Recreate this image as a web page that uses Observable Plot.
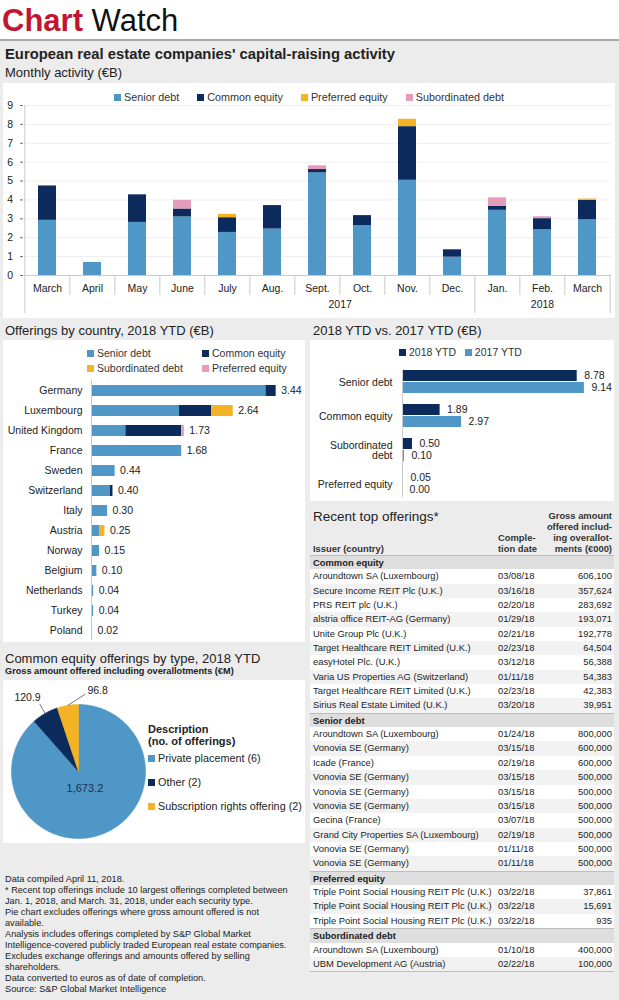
<!DOCTYPE html>
<html><head><meta charset="utf-8">
<script src="https://cdn.jsdelivr.net/npm/d3@7"></script>
<script src="https://cdn.jsdelivr.net/npm/@observablehq/plot@0.6"></script>
<style>
body{margin:0;background:#fff;}
#page{position:relative;width:619px;height:1000px;overflow:hidden;background:#fff;color:#222;
 font-family:"Liberation Sans",Arial,sans-serif;}
.sq{display:inline-block;width:7px;height:7px;margin-right:3px;vertical-align:0px;}
</style></head>
<body><div id="page"></div>
<script>
// ---------------- DATA ----------------
const monthKeys = ["Mar17","Apr17","May17","Jun17","Jul17","Aug17","Sep17","Oct17","Nov17","Dec17","Jan18","Feb18","Mar18"];
const monthLabels = ["March","April","May","June","July","Aug.","Sept.","Oct.","Nov.","Dec.","Jan.","Feb.","March"];
const yearLabels = ["2017","2018"];
const monthlySeries = ["Senior debt","Common equity","Preferred equity","Subordinated debt"];
const seniorDebt      = [2.92,0.69,2.81,3.10,2.28,2.46,5.43,2.64,5.04,0.97,3.45,2.42,2.95];
const commonEquity    = [1.82,0.00,1.46,0.42,0.78,1.24,0.18,0.53,2.84,0.39,0.22,0.59,1.03];
const preferredEquity = [0.00,0.00,0.00,0.00,0.18,0.00,0.00,0.00,0.39,0.00,0.00,0.00,0.07];
const subordinatedDebt= [0.00,0.00,0.00,0.46,0.00,0.00,0.20,0.00,0.00,0.00,0.44,0.10,0.00];

const countries = ["Germany","Luxembourg","United Kingdom","France","Sweden","Switzerland","Italy","Austria","Norway","Belgium","Netherlands","Turkey","Poland"];
const ctySeries = ["Senior debt","Common equity","Subordinated debt","Preferred equity"];
const ctySenior = [3.25,1.64,0.64,1.68,0.44,0.35,0.30,0.15,0.15,0.10,0.04,0.04,0.02];
const ctyCommon = [0.19,0.60,1.04,0,0,0.05,0,0,0,0,0,0,0];
const ctySub    = [0,0.40,0,0,0,0,0,0.10,0,0,0,0,0];
const ctyPref   = [0,0,0.05,0,0,0,0,0,0,0,0,0,0];

const ytdCategories = ["Senior debt","Common equity","Subordinated debt","Preferred equity"];
const ytdYears = ["2018 YTD","2017 YTD"];
const ytd2018 = [8.78,1.89,0.50,0.05];
const ytd2017 = [9.14,2.97,0.10,0.00];

const pieTypes = ["Private placement (6)","Other (2)","Subscription rights offering (2)"];
const pieValues = [1673.2,120.9,96.8];

const tableSections = ["Common equity","Senior debt","Preferred equity","Subordinated debt"];
const tableIssuers = [
 ["Aroundtown SA (Luxembourg)","Secure Income REIT Plc (U.K.)","PRS REIT plc (U.K.)","alstria office REIT-AG (Germany)","Unite Group Plc (U.K.)","Target Healthcare REIT Limited (U.K.)","easyHotel Plc. (U.K.)","Varia US Properties AG (Switzerland)","Target Healthcare REIT Limited (U.K.)","Sirius Real Estate Limited (U.K.)"],
 ["Aroundtown SA (Luxembourg)","Vonovia SE (Germany)","Icade (France)","Vonovia SE (Germany)","Vonovia SE (Germany)","Vonovia SE (Germany)","Gecina (France)","Grand City Properties SA (Luxembourg)","Vonovia SE (Germany)","Vonovia SE (Germany)"],
 ["Triple Point Social Housing REIT Plc (U.K.)","Triple Point Social Housing REIT Plc (U.K.)","Triple Point Social Housing REIT Plc (U.K.)"],
 ["Aroundtown SA (Luxembourg)","UBM Development AG (Austria)"]];
const tableDates = [
 ["03/08/18","03/16/18","02/20/18","01/29/18","02/21/18","02/23/18","03/12/18","01/11/18","02/23/18","03/20/18"],
 ["01/24/18","03/15/18","02/19/18","03/15/18","03/15/18","03/15/18","03/07/18","02/19/18","01/11/18","01/11/18"],
 ["03/22/18","03/22/18","03/22/18"],
 ["01/10/18","02/22/18"]];
const tableAmounts = [
 [606100,357624,283692,193071,192778,64504,56388,54383,42383,39951],
 [800000,600000,600000,500000,500000,500000,500000,500000,500000,500000],
 [37861,15691,935],
 [400000,100000]];

const footLines = ["Data compiled April 11, 2018.",
 "* Recent top offerings include 10 largest offerings completed between",
 "Jan. 1, 2018, and March. 31, 2018, under each security type.",
 "Pie chart excludes offerings where gross amount offered is not",
 "available.",
 "Analysis includes offerings completed by S&P Global Market",
 "Intelligence-covered publicly traded European real estate companies.",
 "Excludes exchange offerings and amounts offered by selling",
 "shareholders.",
 "Data converted to euros as of date of completion.",
 "Source: S&P Global Market Intelligence"];

// ---------------- STYLE ----------------
const FONT = '"Liberation Sans",Arial,sans-serif';
const C_SENIOR = "#4f97c7", C_COMMON = "#0c2a5b", C_YEL = "#f4b324", C_PINK = "#e59bb9";
const GRID = "#c9c9c9";
const page = document.getElementById("page");

function el(tag, css, html) { const e = document.createElement(tag); e.style.cssText = css; if (html != null) e.innerHTML = html; page.appendChild(e); return e; }
function txt(x, baseline, fs, html, extra = "") {
  return el("div", `position:absolute;white-space:nowrap;left:${x}px;top:${baseline - 0.8465 * fs}px;font-size:${fs}px;line-height:${fs}px;${extra}`, html);
}
function box(x, y, w, h) { return el("div", `position:absolute;background:#fff;left:${x}px;top:${y}px;width:${w}px;height:${h}px;`); }
function place(node, x, y) { const d = el("div", `position:absolute;left:${x}px;top:${y}px;line-height:0;`); d.appendChild(node); return d; }
function legendItem(color, label) { return `<span><span class="sq" style="background:${color}"></span>${label}</span>`; }
const baseStyle = {fontFamily: FONT, fontSize: "10.5px", color: "#222", background: "transparent", overflow: "visible"};

// ---------------- HEADER / PANEL ----------------
el("div", "position:absolute;left:0;top:41px;width:619px;height:959px;background:#ececec;");
el("div", "position:absolute;left:0;top:39px;width:619px;height:2px;background:#a9a9a9;");
el("div", `position:absolute;white-space:nowrap;left:2px;top:3px;font-size:31px;line-height:36px;`,
  `<span style="color:#c0162f;font-weight:bold">Chart</span> <span style="color:#111">Watch</span>`);
txt(5, 60, 14.8, "European real estate companies' capital-raising activity", "font-weight:bold;");
txt(5, 77, 13, "Monthly activity (€B)");

// ---------------- MONTHLY CHART ----------------
box(3, 83, 612, 235);
el("div", `position:absolute;left:3px;top:90px;width:612px;height:14px;display:flex;justify-content:center;gap:18px;font-size:10.8px;line-height:14px;color:#333;`,
  monthlySeries.map((s, i) => legendItem([C_SENIOR, C_COMMON, C_YEL, C_PINK][i], s)).join(""));
{
  const mW = 612, mH = 217, mT = 4, mB = 43, mL = 19.5, mR = 4;
  const step = (mW - mL - mR) / monthKeys.length;
  const pxPerUnit = (mH - mT - mB) / 9;
  const shortSep = -20 / pxPerUnit, longSep = -38 / pxPerUnit;
  const vals = [seniorDebt, commonEquity, preferredEquity, subordinatedDebt];
  const data = monthlySeries.flatMap((s, si) => monthKeys.map((k, i) => ({key: k, series: s, value: vals[si][i]})));
  const seps = monthKeys.map(k => ({key: k, y1: k === "Mar17" ? 9 : 0, y2: (k === "Mar17" || k === "Jan18") ? longSep : shortSep}));
  const chart = Plot.plot({
    width: mW, height: mH, marginTop: mT, marginBottom: mB, marginLeft: mL, marginRight: mR,
    style: baseStyle,
    x: {domain: monthKeys, paddingInner: 0.6, paddingOuter: 0.3, label: null, tickSize: 0, tickPadding: 9,
        tickFormat: d => monthLabels[monthKeys.indexOf(d)]},
    y: {domain: [0, 9], ticks: 9, label: null, tickSize: 2, tickPadding: 8},
    color: {domain: monthlySeries, range: [C_SENIOR, C_COMMON, C_YEL, C_PINK]},
    marks: [
      Plot.ruleY(d3.range(1, 10), {stroke: "#eeeeee"}),
      Plot.barY(data, {x: "key", y: "value", fill: "series", order: monthlySeries}),
      Plot.ruleY([0], {stroke: GRID}),
      Plot.ruleX(seps, {x: "key", y1: "y1", y2: "y2", dx: -step / 2, stroke: GRID}),
      Plot.ruleX([monthKeys[monthKeys.length - 1]], {x: d => d, y1: 0, y2: longSep, dx: step / 2, stroke: GRID}),
      Plot.text([yearLabels[0]], {x: () => "Sep17", text: d => d, frameAnchor: "bottom", dy: 32, dx: step / 2}),
      Plot.text([yearLabels[1]], {x: () => "Feb18", text: d => d, frameAnchor: "bottom", dy: 32})
    ]
  });
  place(chart, 3, 101);
}

// ---------------- COUNTRY CHART ----------------
txt(5, 335, 13, "Offerings by country, 2018 YTD (€B)");
box(3, 340, 302, 302);
{
  const cols = [C_SENIOR, C_COMMON, C_YEL, C_PINK];
  const pos = [[87, 353], [202, 353], [87, 368], [202, 368]];
  ctySeries.forEach((s, i) => txt(pos[i][0], pos[i][1] + 4, 10.5, legendItem(cols[i], s), "color:#333;"));
  const vals = [ctySenior, ctyCommon, ctySub, ctyPref];
  const data = ctySeries.flatMap((s, si) => countries.map((c, i) => ({country: c, series: s, value: vals[si][i]})));
  const totals = countries.map((c, i) => vals.reduce((a, v) => a + v[i], 0));
  const chart = Plot.plot({
    width: 302, height: 266, marginTop: 4, marginBottom: 2, marginLeft: 88, marginRight: 10,
    style: baseStyle,
    x: {domain: [0, 3.8], axis: null},
    y: {domain: countries, paddingInner: 0.45, paddingOuter: 0.225, label: null, tickSize: 0, tickPadding: 9},
    color: {domain: ctySeries, range: cols},
    marks: [
      Plot.barX(data, {y: "country", x: "value", fill: "series", order: ctySeries}),
      Plot.ruleX([0], {stroke: GRID}),
      Plot.text(countries, {y: d => d, x: (d, i) => totals[i], text: (d, i) => totals[i].toFixed(2), dx: 5, textAnchor: "start"})
    ]
  });
  place(chart, 3, 376);
}

// ---------------- YTD CHART ----------------
txt(313, 335, 13, "2018 YTD vs. 2017 YTD (€B)");
box(310, 340, 304, 161);
{
  txt(399, 356, 10.5, legendItem(C_COMMON, ytdYears[0]) + "&nbsp;&nbsp;&nbsp;" + legendItem(C_SENIOR, ytdYears[1]), "color:#333;");
  const data = ytdCategories.flatMap((c, i) => [{cat: c, year: ytdYears[0], v: ytd2018[i]}, {cat: c, year: ytdYears[1], v: ytd2017[i]}]);
  const chart = Plot.plot({
    width: 304, height: 141, marginTop: 4, marginBottom: 0, marginLeft: 92, marginRight: 13,
    style: baseStyle,
    x: {domain: [0, 10], axis: null},
    y: {domain: ytdYears, axis: null, paddingInner: 0.06, paddingOuter: 0},
    fy: {domain: ytdCategories, axis: "left", paddingInner: 0.3, paddingOuter: 0.15, label: null, tickSize: 0, tickPadding: 10,
         tickFormat: d => d === "Subordinated debt" ? "Subordinated\ndebt" : d},
    color: {domain: ytdYears, range: [C_COMMON, C_SENIOR]},
    marks: [
      Plot.barX(data, {fy: "cat", y: "year", x: "v", fill: "year"}),
      Plot.text(data, {fy: "cat", y: "year", x: "v", text: d => d.v.toFixed(2), dx: 7, textAnchor: "start"}),
      Plot.frame({anchor: "left", facet: "super", stroke: GRID})
    ]
  });
  place(chart, 310, 360);
}

// ---------------- PIE CHART ----------------
txt(5, 663, 13, "Common equity offerings by type, 2018 YTD");
txt(5, 675, 9.2, "Gross amount offered including overallotments (€M)", "font-weight:bold;");
box(3, 680, 302, 163);
{
  const pieCols = [C_SENIOR, C_COMMON, C_YEL];
  const arcs = d3.pie().sort(null)(pieValues);
  const mid = a => (a.startAngle + a.endAngle) / 2;
  const ring = a => {
    const n = Math.max(10, Math.ceil((a.endAngle - a.startAngle) / 0.015));
    const pts = [{x: 0, y: 0}];
    for (let k = 0; k <= n; k++) { const t = a.startAngle + (a.endAngle - a.startAngle) * k / n; pts.push({x: Math.sin(t), y: Math.cos(t)}); }
    pts.push({x: 0, y: 0});
    return pts;
  };
  const fmt = d3.format(",.1f");
  const angleShift = [0, 0, 0.25];
  const outside = arcs.slice(1).map(a => {
    const t = mid(a) + angleShift[a.index], r = 1.16;
    return {a, x1: Math.sin(mid(a)), y1: Math.cos(mid(a)), x2: r * Math.sin(t), y2: r * Math.cos(t)};
  });
  const chart = Plot.plot({
    width: 302, height: 163, marginTop: 24, marginBottom: 5, marginLeft: 8, marginRight: 160,
    style: baseStyle,
    x: {domain: [-1, 1], axis: null},
    y: {domain: [-1, 1], axis: null},
    marks: [
      ...arcs.map((a, i) => Plot.line(ring(a), {x: "x", y: "y", fill: pieCols[i], stroke: pieCols[i], strokeWidth: 0.6})),
      Plot.text([arcs[0]], {x: a => 0.27 * Math.sin(mid(a)), y: a => 0.27 * Math.cos(mid(a)), text: a => fmt(a.value), fill: "#1b2f55", fontSize: 11}),
      Plot.link(outside, {x1: "x1", y1: "y1", x2: "x2", y2: "y2", stroke: "#555", strokeWidth: 0.8}),
      Plot.text([outside[0]], {x: "x2", y: "y2", text: d => fmt(d.a.value), textAnchor: "end", dx: 1, dy: -7}),
      Plot.text([outside[1]], {x: "x2", y: "y2", text: d => fmt(d.a.value), textAnchor: "start", dx: 2, dy: -3})
    ]
  });
  place(chart, 3, 680);
  txt(148, 733, 11, "Description", "font-weight:bold;");
  txt(148, 745, 11, "(no. of offerings)", "font-weight:bold;");
  [762, 786, 810].forEach((b, i) => txt(148, b, 10.8, legendItem(pieCols[i], pieTypes[i])));
}

// ---------------- TABLE ----------------
{
  const T = el("div", "position:absolute;left:310px;top:503px;width:304px;height:470px;");
  const add = (css, html) => { const e = document.createElement("div"); e.style.cssText = css; e.innerHTML = html; T.appendChild(e); return e; };
  add("position:absolute;left:3px;top:6px;font-size:13.5px;line-height:16px;white-space:nowrap;", "Recent top offerings*");
  add("position:absolute;left:3px;top:40px;font-size:9.4px;line-height:11px;font-weight:bold;color:#333;white-space:nowrap;", "Issuer (country)");
  add("position:absolute;left:188px;top:29px;font-size:9.4px;line-height:11px;font-weight:bold;color:#333;white-space:nowrap;", "Comple-<br>tion date");
  add("position:absolute;right:2px;top:7px;font-size:9.4px;line-height:11px;font-weight:bold;color:#333;text-align:right;white-space:nowrap;", "Gross amount<br>offered includ-<br>ing overallot-<br>ments (€000)");
  const rowH = 14.36; let y = 51.8;
  const fmt = d3.format(",");
  tableSections.forEach((s, si) => {
    add(`position:absolute;left:0;top:${y}px;width:304px;height:${rowH}px;line-height:${rowH}px;background:#dedede;border-top:1px solid #bdbdbd;box-sizing:border-box;font-size:9.4px;font-weight:bold;padding-left:3px;`, s);
    y += rowH;
    tableIssuers[si].forEach((iss, i) => {
      add(`position:absolute;left:0;top:${y}px;width:304px;height:${rowH}px;line-height:${rowH}px;background:${i % 2 ? "#f2f2f2" : "#ffffff"};font-size:9.4px;white-space:nowrap;`,
        `<span style="position:absolute;left:3px">${iss}</span><span style="position:absolute;left:188px">${tableDates[si][i]}</span><span style="position:absolute;right:2px">${fmt(tableAmounts[si][i])}</span>`);
      y += rowH;
    });
  });
  add(`position:absolute;left:0;top:${y}px;width:304px;height:1px;background:#bdbdbd;`, "");
}

// ---------------- FOOTER ----------------
footLines.forEach((l, i) => txt(5, 883 + i * 11, 9.2, l.replace(/&/g, "&amp;")));
</script></body></html>
